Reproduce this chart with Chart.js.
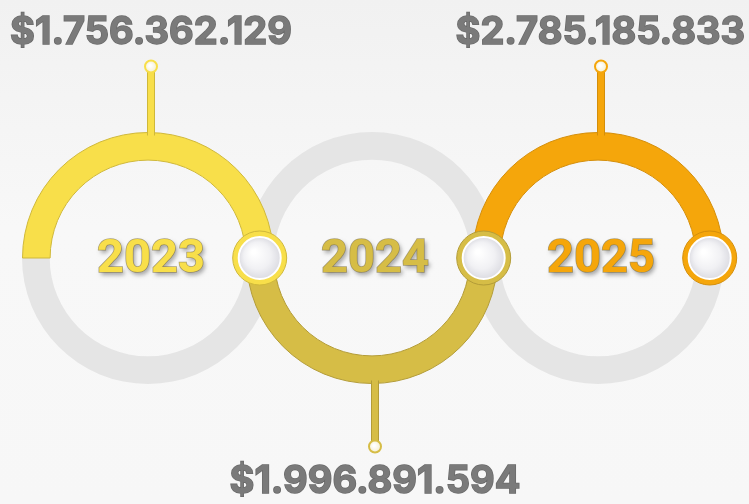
<!DOCTYPE html>
<html>
<head>
<meta charset="utf-8">
<script src="https://cdn.jsdelivr.net/npm/chart.js@4.4.1/dist/chart.umd.min.js"></script>
<style>
html,body{margin:0;padding:0;}
body{background:linear-gradient(#f1f1f1 0%,#f8f8f8 45%,#f7f7f7 100%);}
#wrap{position:relative;width:749px;height:504px;overflow:hidden;}
#wrap canvas{position:absolute;left:0;top:0;}
</style>
</head>
<body>
<div id="wrap"></div>
<script>
// =========================================
// Data
// =========================================

const years = ["2023", "2024", "2025"];
const revenue = [1756362129, 1996891594, 2785185833];

// half of each ring that carries the colour
const arcSide = ["top", "bottom", "top"];

const arcColors = ["#f8df4a", "#d6bd46", "#f5a60b"];
const edgeColors = ["#cfb83a", "#b39c38", "#d48e0a"];
const trackColor = "#e5e5e5";

// =========================================
// Layout
// =========================================

const W = 749, H = 504;
const ringCenters = [148, 372, 598];
const ringY = 258;
const outerR = 126;
const pinLen = 66;

const wrap = document.getElementById("wrap");

function money(v){
    return "$" + String(v).replace(/\B(?=(\d{3})+(?!\d))/g, ".");
}

function newCanvas(){
    const c = document.createElement("canvas");
    c.width = W;
    c.height = H;
    wrap.appendChild(c);
    return c;
}

function padFor(i){
    const cx = ringCenters[i];
    return {
        left: cx - outerR,
        right: W - cx - outerR,
        top: ringY - outerR,
        bottom: H - ringY - outerR
    };
}

// =========================================
// Overlay: pin, value label, node, year
// =========================================

function overlayPlugin(i){

    return {
        id: "overlay" + i,
        afterDatasetsDraw(chart){

            const arc = chart.getDatasetMeta(0).data[0];
            const ctx = chart.ctx;
            const cx = arc.x, cy = arc.y;
            const midR = (arc.outerRadius + arc.innerRadius) / 2;
            const up = arcSide[i] === "top";
            const px = cx + 3;
            const base = up ? cy - arc.outerRadius + 3 : cy + arc.outerRadius - 3;
            const tip = up ? base - pinLen - 3 : base + pinLen;
            const color = arcColors[i];

            ctx.save();

            // pin
            ctx.lineCap = "butt";
            ctx.strokeStyle = edgeColors[i];
            ctx.lineWidth = 8;
            ctx.beginPath();
            ctx.moveTo(px, base);
            ctx.lineTo(px, tip);
            ctx.stroke();
            ctx.strokeStyle = color;
            ctx.lineWidth = 6;
            ctx.beginPath();
            ctx.moveTo(px, base + (up ? 2 : -2));
            ctx.lineTo(px, tip);
            ctx.stroke();

            let g = ctx.createRadialGradient(px - 1, tip - 1, 1, px, tip, 7);
            g.addColorStop(0, "#ffffff");
            g.addColorStop(1, "#f3ecc8");
            ctx.fillStyle = g;
            ctx.strokeStyle = color;
            ctx.lineWidth = 2;
            ctx.beginPath();
            ctx.arc(px, tip, 6, 0, Math.PI * 2);
            ctx.fill();
            ctx.stroke();

            // value label
            ctx.font = "bold 38px Inter, 'Open Sans', sans-serif";
            ctx.textAlign = "center";
            ctx.textBaseline = "middle";
            const text = money(revenue[i]);
            const tw = ctx.measureText(text).width;
            let lx = Math.min(px, W - 4 - tw / 2);
            lx = Math.max(lx, 4 + tw / 2);
            const ly = up ? tip - 34 : tip + 35;
            ctx.lineWidth = 1.5;
            ctx.strokeStyle = "#6a6a6a";
            ctx.strokeText(text, lx, ly);
            ctx.fillStyle = "#7a7a7a";
            ctx.fillText(text, lx, ly);

            // node at the right end of the coloured half
            const nx = cx + midR, ny = cy;
            ctx.fillStyle = color;
            ctx.strokeStyle = edgeColors[i];
            ctx.lineWidth = 1;
            ctx.beginPath();
            ctx.arc(nx, ny, 27, 0, Math.PI * 2);
            ctx.fill();
            ctx.stroke();

            g = ctx.createRadialGradient(nx - 6, ny - 6, 2, nx, ny, 21);
            g.addColorStop(0, "#ffffff");
            g.addColorStop(0.6, "#f1f1f4");
            g.addColorStop(1, "#dcdce2");
            ctx.fillStyle = g;
            ctx.beginPath();
            ctx.arc(nx, ny, 21, 0, Math.PI * 2);
            ctx.fill();
            ctx.strokeStyle = "#ffffff";
            ctx.lineWidth = 2;
            ctx.stroke();

            // year in the middle of the ring
            ctx.font = "bold 47px Roboto, Inter, sans-serif";
            ctx.shadowColor = "rgba(0,0,0,0.35)";
            ctx.shadowOffsetX = 2;
            ctx.shadowOffsetY = 3;
            ctx.shadowBlur = 4;
            ctx.fillStyle = color;
            ctx.fillText(years[i], px, cy + 2);
            ctx.shadowColor = "rgba(0,0,0,0)";
            ctx.lineWidth = 1.5;
            ctx.strokeStyle = "rgba(120,105,50,0.6)";
            ctx.strokeText(years[i], px, cy + 2);
            ctx.fillText(years[i], px, cy + 2);

            ctx.restore();
        }
    };

}

// =========================================
// Rings
// =========================================

function makeRing(i, layer){

    const colored = layer === "arc";
    const clear = "rgba(0,0,0,0)";

    return new Chart(newCanvas(), {

        type: "doughnut",

        data: {
            labels: [years[i], ""],
            datasets: [{
                data: [revenue[i], revenue[i]],
                backgroundColor: colored ? [arcColors[i], clear] : [clear, trackColor],
                borderColor: colored ? [edgeColors[i], clear] : [clear, clear],
                borderWidth: colored ? [1, 0] : [0, 0],
                hoverOffset: 0
            }]
        },

        options: {
            responsive: false,
            animation: false,
            events: [],
            cutout: "78%",
            rotation: arcSide[i] === "top" ? -90 : 90,
            layout: { padding: padFor(i) },
            plugins: {
                legend: { display: false },
                tooltip: { enabled: false }
            }
        },

        plugins: colored ? [overlayPlugin(i)] : []

    });

}

// grey tracks first, then coloured halves (2023 last so its node sits on top)
years.forEach((y, i) => makeRing(i, "track"));
for (let i = years.length - 1; i >= 0; i--) {
    makeRing(i, "arc");
}
</script>
</body>
</html>
